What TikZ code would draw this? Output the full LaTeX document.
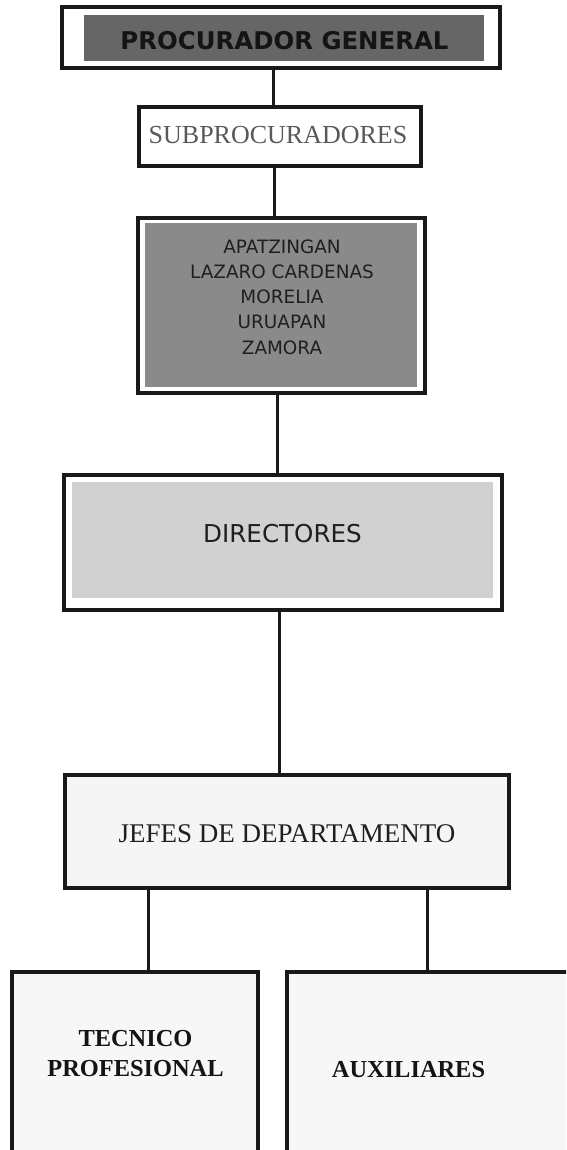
\documentclass[tikz,border=0pt]{standalone}
\usepackage{fontspec}
\setmainfont{Liberation Serif}
\newfontfamily\tah{DejaVu Sans}
\begin{document}
\begin{tikzpicture}[x=1pt,y=-1pt,
  box/.style={draw=black!90, line width=3.2pt, fill=white, inner sep=0pt},
  inset/.style n args={5}{path picture={\fill[#1] ([xshift=#2pt,yshift=#5pt]path picture bounding box.south west) rectangle ([xshift=-#3pt,yshift=-#4pt]path picture bounding box.north east);}},
  conn/.style={draw=black!90, line width=3pt},
  lbl/.style={inner sep=0pt, anchor=base, text=black!88}
]
\useasboundingbox (0,0) rectangle (566,1150);
\clip (0,0) rectangle (566,1150);

% boxes
\node[box, minimum width=438pt, minimum height=61pt, inset={black!60}{22}{16}{8}{7}] (pg) at (281,37.5) {};
\node[box, minimum width=282pt, minimum height=59pt] (sub) at (280,136.5) {};
\node[box, minimum width=287pt, minimum height=175pt, inset={black!46}{7}{8}{5}{6}] (reg) at (281.5,305.5) {};
\node[box, minimum width=438pt, minimum height=135pt, inset={black!18}{8}{9}{7}{12}] (dir) at (283,542.5) {};
\node[box, fill=black!4, minimum width=444pt, minimum height=113pt] (jef) at (287,831.5) {};
\node[box, fill=black!3, minimum width=246pt, minimum height=208pt] (tec) at (135,1076) {};
\node[box, fill=black!3, minimum width=313pt, minimum height=208pt] (aux) at (443.5,1076) {};

% texts
\node[lbl, font=\tah\bfseries\fontsize{24.4}{28}\selectfont, text=black!92] (tpg) at (284.5,50) {PROCURADOR GENERAL};
\node[lbl, font=\fontsize{26}{30}\selectfont, text=black!65] (tsub) at (278,143.3) {SUBPROCURADORES};
\node[inner sep=0pt, align=center, text=black!88, font=\tah\fontsize{18.4}{25.2}\selectfont] (treg) at (282,297)
  {APATZINGAN\\LAZARO CARDENAS\\MORELIA\\URUAPAN\\ZAMORA};
\node[lbl, font=\tah\fontsize{24.6}{29}\selectfont] (tdir) at (282.5,542) {DIRECTORES};
\node[lbl, font=\fontsize{27}{32}\selectfont] (tjef) at (287,842) {JEFES DE DEPARTAMENTO};
\node[inner sep=0pt, align=center, text=black!92, font=\bfseries\fontsize{24.4}{30}\selectfont] (ttec) at (135.5,1053.5)
  {TECNICO\\PROFESIONAL};
\node[lbl, font=\bfseries\fontsize{24.4}{30}\selectfont, text=black!92] (taux) at (408.5,1077) {AUXILIARES};

% connectors
\draw[conn] ([xshift=-8pt]pg.south) -- ([xshift=-7pt]sub.north);
\draw[conn] ([xshift=-6pt]sub.south) -- ([xshift=-7.5pt]reg.north);
\draw[conn] ([xshift=-4.5pt]reg.south) -- ([xshift=-6pt]dir.north);
\draw[conn] ([xshift=-4pt]dir.south) -- ([xshift=-8pt]jef.north);
\draw[conn] ([xshift=-139pt]jef.south) -- ([xshift=13pt]tec.north);
\draw[conn] ([xshift=140pt]jef.south) -- ([xshift=-16.5pt]aux.north);
\end{tikzpicture}
\end{document}
